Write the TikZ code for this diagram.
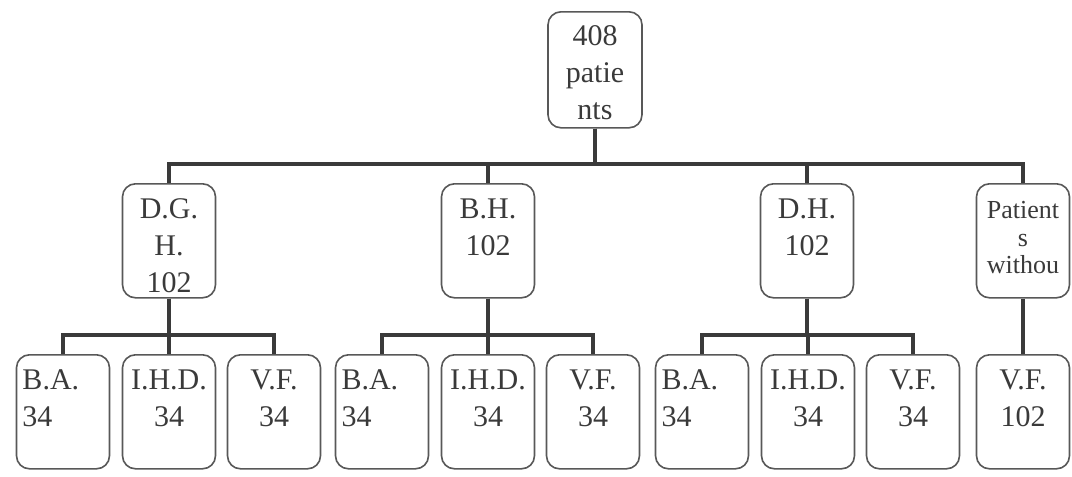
\documentclass[tikz,border=0pt]{standalone}
\usepackage{fontspec}
\setmainfont{Liberation Serif}
\definecolor{ink}{RGB}{58,58,58}
\tikzset{px/.style={x=0.5pt,y=-0.5pt}}
\tikzset{cell/.style={draw=ink!85,line width=0.8pt,rounded corners=6.5pt,anchor=north,
           text width=44pt,inner xsep=1.25pt,inner ysep=0pt,align=center,text=ink,
           font=\fontsize{15}{18.5}\selectfont,text height=17.5pt,text depth=39.5pt},
         cellleft/.style={cell,align=left,text width=40.5pt,inner xsep=3pt},
         link/.style={ink,line width=2pt}}

\begin{document}
\begin{tikzpicture}[px]
    \useasboundingbox (0,0) rectangle (1072,477);
    % top
    \node[cell,text width=44.5pt,text height=17pt,text depth=41pt] (root) at (595,11) {408\\patie\\nts};
    % hospitals
    \node[cell] (dgh) at (169,183) {D.G.\\H.\\102};
    \node[cell] (bh)  at (488,183) {B.H.\\102};
    \node[cell] (dh)  at (807,183) {D.H.\\102};
    \node[cell,font=\fontsize{13}{13.75}\selectfont] (pwo) at (1023,183) {Patient\\s\\withou};
    % diagnoses
    \foreach \h/\x in {dgh/63,bh/382,dh/702} {
      \node[cellleft] (\h ba)  at (\x,354) {B.A.\\34};
      \node[cell]     (\h ihd) at (\x+106,354) {I.H.D.\\34};
      \node[cell]     (\h vf)  at (\x+211,354) {V.F.\\34};
    }
    \node[cell] (pvf) at (1023,354) {V.F.\\102};
    % connectors
    \foreach \c in {dgh,bh,dh,pwo} \draw[link] (root.south) -- ++(0,35) -| (\c.north);
    \foreach \h in {dgh,bh,dh}
      \foreach \c in {ba,ihd,vf} \draw[link] (\h.south) -- ++(0,36) -| (\h\c.north);
    \draw[link] (pwo.south) -- (pvf.north);
\end{tikzpicture}
\end{document}
